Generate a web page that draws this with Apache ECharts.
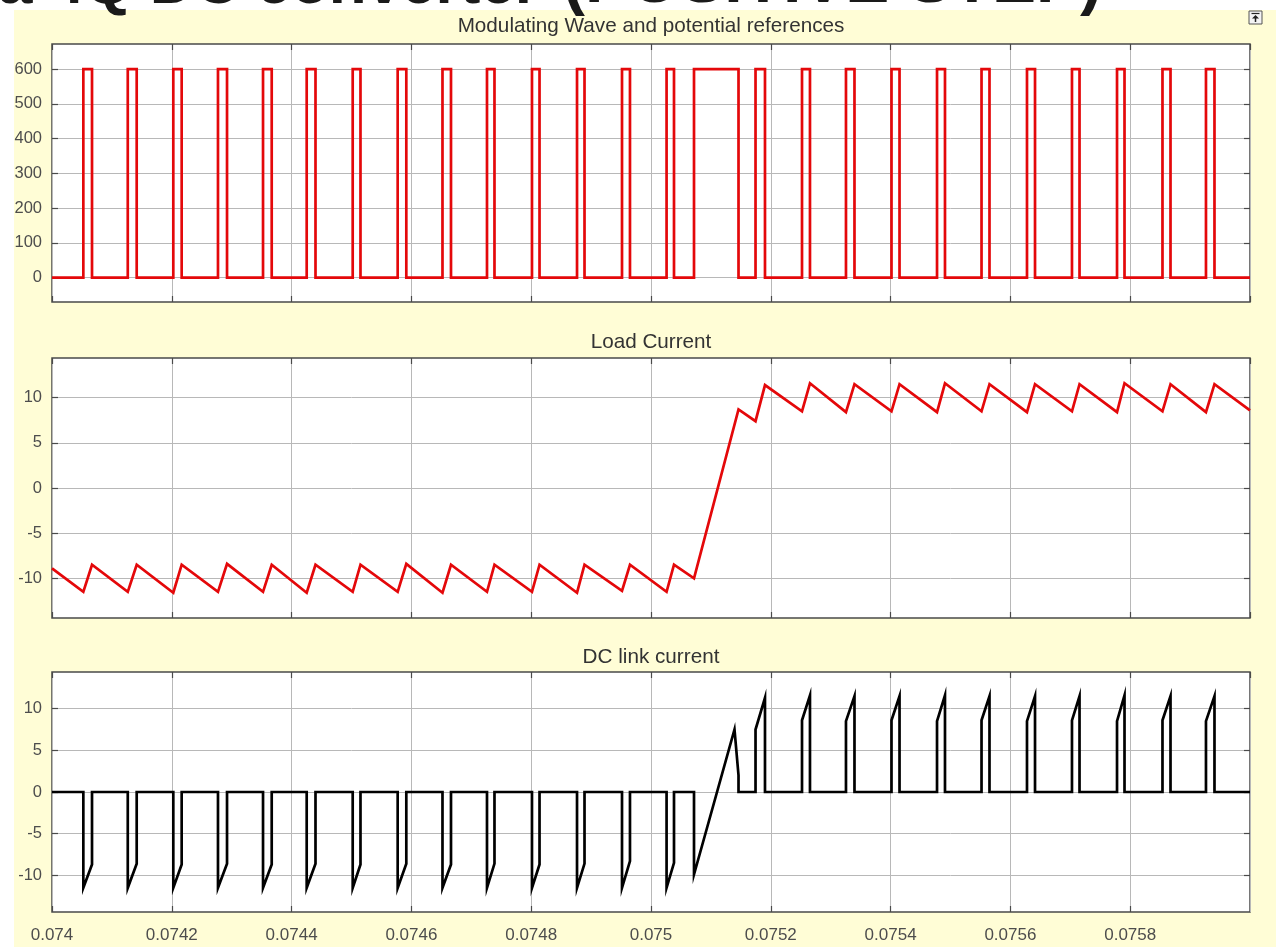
<!DOCTYPE html>
<html>
<head>
<meta charset="utf-8">
<script src="https://cdn.jsdelivr.net/npm/echarts@6/dist/echarts.min.js"></script>
<style>
html,body{margin:0;padding:0;background:#fff;}
#chart{width:1276px;height:947px;}
</style>
</head>
<body>
<div id="chart"></div>
<script>
// ---------- data ----------
const xMin = 0.074, xMax = 0.076, xStep = 0.0002;
const titles = ['Modulating Wave and potential references', 'Load Current', 'DC link current'];
const headerParts = ['a 4Q DC converter', '(POSITIVE STEP)'];
const modTicks = [0, 100, 200, 300, 400, 500, 600];
const curTicks = [-10, -5, 0, 5, 10];

// switching pulse edges (s)
const pulseStart = [0.0740523, 0.0741265, 0.0742025, 0.0742771, 0.0743523, 0.0744252, 0.0745020,
  0.0745771, 0.0746519, 0.0747262, 0.0748013, 0.0748765, 0.0749516, 0.0750260, 0.0750718,
  0.0751745, 0.0752521, 0.0753255, 0.0754015, 0.0754775, 0.0755518, 0.0756277, 0.0757028,
  0.0757780, 0.0758539, 0.0759265];
const pulseEnd = [0.0740668, 0.0741414, 0.0742165, 0.0742922, 0.0743668, 0.0744399, 0.0745150,
  0.0745915, 0.0746661, 0.0747387, 0.0748139, 0.0748890, 0.0749649, 0.0750384, 0.0751461,
  0.0751903, 0.0752654, 0.0753397, 0.0754149, 0.0754908, 0.0755651, 0.0756411, 0.0757154,
  0.0757905, 0.0758673, 0.0759407];
const modLow = 0, modHigh = 600;

// load current at pulse start / pulse end (A)
const loadFirst = -8.9, loadLast = 8.6;
const loadAtStart = [-11.5, -11.5, -11.6, -11.5, -11.5, -11.6, -11.5, -11.5, -11.6, -11.5, -11.5,
  -11.6, -11.4, -11.5, -10.0, 7.4, 8.5, 8.4, 8.5, 8.4, 8.5, 8.4, 8.5, 8.4, 8.5, 8.4];
const loadAtEnd = [-8.5, -8.5, -8.5, -8.4, -8.5, -8.5, -8.5, -8.4, -8.5, -8.5, -8.5,
  -8.5, -8.5, -8.5, 8.7, 11.4, 11.6, 11.5, 11.5, 11.6, 11.5, 11.5, 11.5, 11.6, 11.5, 11.5];

// DC link current at pulse start / pulse end (A), zero between pulses
const dcAtStart = [-11.5, -11.5, -11.5, -11.5, -11.5, -11.5, -11.5, -11.5, -11.5, -11.5, -11.5,
  -11.5, -11.5, -11.5, -9.9, 7.5, 8.6, 8.5, 8.6, 8.5, 8.6, 8.5, 8.6, 8.5, 8.6, 8.5];
const dcAtEnd = [-8.7, -8.6, -8.7, -8.6, -8.7, -8.6, -8.7, -8.6, -8.7, -8.6, -8.7,
  -8.6, -8.3, -8.5, 2.0, 11.3, 11.6, 11.5, 11.5, 11.6, 11.5, 11.5, 11.5, 11.6, 11.5, 11.5];
const dcKinkTime = 0.0751394, dcKinkValue = 7.5, dcKinkPulse = 14;

// ---------- build series points ----------
const modData = [[xMin, modLow]];
const loadData = [[xMin, loadFirst]];
const dcData = [[xMin, 0]];
for (let i = 0; i < pulseStart.length; i++) {
  const s = pulseStart[i], e = pulseEnd[i];
  modData.push([s, modLow], [s, modHigh], [e, modHigh], [e, modLow]);
  loadData.push([s, loadAtStart[i]], [e, loadAtEnd[i]]);
  dcData.push([s, 0], [s, dcAtStart[i]]);
  if (i === dcKinkPulse) dcData.push([dcKinkTime, dcKinkValue]);
  dcData.push([e, dcAtEnd[i]], [e, 0]);
}
modData.push([xMax, modLow]);
loadData.push([xMax, loadLast]);
dcData.push([xMax, 0]);

// ---------- chart ----------
const FONT = "'Liberation Sans', Arial, sans-serif";
const gridDefs = [
  {top: 44, height: 258, min: -70, max: 672, ticks: modTicks},
  {top: 358, height: 260, min: -14.4, max: 14.4, ticks: curTicks},
  {top: 672, height: 240, min: -14.4, max: 14.4, ticks: curTicks}
];
const tickStyle = {color: '#4a4a4a', width: 1.2};
const grids = [], xAxes = [], yAxes = [];
gridDefs.forEach((g, i) => {
  grids.push({left: 52, right: 26, top: g.top, height: g.height, show: true,
    backgroundColor: '#ffffff', borderColor: '#4a4a4a', borderWidth: 1.5});
  const isLast = i === gridDefs.length - 1;
  xAxes.push({type: 'value', gridIndex: i, position: 'bottom', min: xMin, max: xMax, interval: xStep,
    axisLine: {show: false, onZero: false},
    axisTick: {show: true, inside: true, length: 6, lineStyle: tickStyle},
    splitLine: {show: true, lineStyle: {color: '#b8b8b8', width: 1}},
    axisLabel: {show: isLast, showMaxLabel: false, margin: 15, fontFamily: FONT, fontSize: 17,
      color: '#4d4d4d', formatter: v => String(+v.toFixed(5))}});
  xAxes.push({type: 'value', gridIndex: i, position: 'top', min: xMin, max: xMax, interval: xStep,
    axisLine: {show: false, onZero: false}, splitLine: {show: false}, axisLabel: {show: false},
    axisTick: {show: true, inside: true, length: 6, lineStyle: tickStyle}});
  yAxes.push({type: 'value', gridIndex: i, position: 'left', min: g.min, max: g.max,
    axisLine: {show: false, onZero: false},
    axisTick: {show: true, inside: true, length: 6, customValues: g.ticks, lineStyle: tickStyle},
    splitLine: {show: true, lineStyle: {color: '#b8b8b8', width: 1}},
    axisLabel: {show: true, customValues: g.ticks, margin: 10, fontFamily: FONT, fontSize: 16.5, color: '#4d4d4d'}});
  yAxes.push({type: 'value', gridIndex: i, position: 'right', min: g.min, max: g.max,
    axisLine: {show: false, onZero: false}, splitLine: {show: false}, axisLabel: {show: false},
    axisTick: {show: true, inside: true, length: 6, customValues: g.ticks, lineStyle: tickStyle}});
});

const lineSeries = (data, idx, color) => ({
  type: 'line', data: data, xAxisIndex: idx * 2, yAxisIndex: idx * 2,
  showSymbol: false, symbol: 'none', clip: true, silent: true,
  lineStyle: {color: color, width: 2.7, join: 'miter'}
});

const titleY = [26, 342, 657];
const graphic = [
  {type: 'rect', z: -10, shape: {x: 14, y: 10, width: 1262, height: 937}, style: {fill: '#fffdd6'}},
  {type: 'text', z: 10, style: {text: headerParts[0], x: -2, y: 17, fontFamily: "'Liberation Sans', Arial", fontWeight: 'bold',
    fontSize: 62, fill: '#1a1a1a', align: 'left', verticalAlign: 'bottom'}},
  {type: 'text', z: 10, style: {text: headerParts[1], x: 563, y: 17, fontFamily: "'Liberation Sans', Arial", fontWeight: 'bold',
    fontSize: 66, fill: '#1a1a1a', align: 'left', verticalAlign: 'bottom'}},
  {type: 'rect', z: 10, shape: {x: 1249, y: 11, width: 13, height: 13}, style: {fill: '#f4f4f4', stroke: '#555', lineWidth: 1}},
  {type: 'polyline', z: 11, shape: {points: [[1251.5, 13.5], [1259.5, 13.5]]}, style: {stroke: '#222', lineWidth: 1.2}},
  {type: 'polygon', z: 11, shape: {points: [[1255.5, 15], [1252, 18.5], [1259, 18.5]]}, style: {fill: '#222'}},
  {type: 'polyline', z: 11, shape: {points: [[1255.5, 18], [1255.5, 22]]}, style: {stroke: '#222', lineWidth: 1.5}}
];
titles.forEach((t, i) => graphic.push({type: 'text', z: 10, x: 651, y: titleY[i], scaleX: 0.985,
  style: {text: t, x: 0, y: 0, align: 'center', verticalAlign: 'middle',
    fontFamily: "'Liberation Sans', Arial", fontSize: 21, fill: '#333'}}));

const chart = echarts.init(document.getElementById('chart'), null, {renderer: 'canvas'});
chart.setOption({
  animation: false,
  backgroundColor: '#ffffff',
  grid: grids, xAxis: xAxes, yAxis: yAxes,
  graphic: graphic,
  series: [
    lineSeries(modData, 0, '#e4080a'),
    lineSeries(loadData, 1, '#e4080a'),
    lineSeries(dcData, 2, '#000000')
  ]
});
</script>
</body>
</html>
